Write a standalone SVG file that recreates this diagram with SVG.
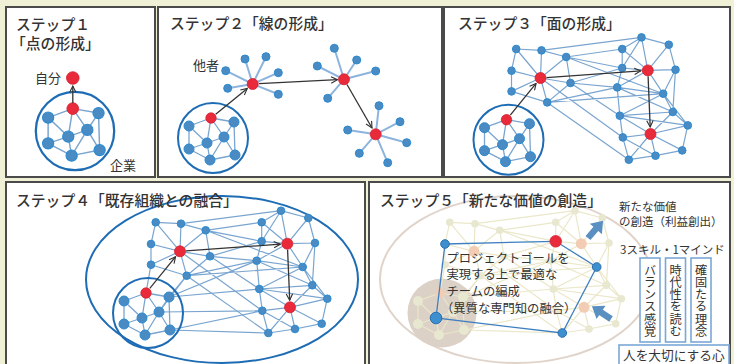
<svg xmlns="http://www.w3.org/2000/svg" xmlns:xlink="http://www.w3.org/1999/xlink" width="734" height="364" viewBox="0 0 734 364">
<style>
.panel{fill:#ffffff;stroke:#4a4a4a;stroke-width:2}
.t{font-family:"Noto Sans CJK JP","Noto Sans",sans-serif;fill:#333333}
.title{font-size:14.8px;font-weight:500}
.lbl{font-size:13px}
.sm{font-size:11.5px}
.mid{font-size:12.3px}
.vt{font-size:12.2px;writing-mode:vertical-rl}
.ring{fill:none;stroke:#1e6cb4;stroke-width:2}
.red{fill:#e92a3a;stroke:#d41f30;stroke-width:0.8}
.peach{fill:#f2cdb3}
.spoke{stroke:#8db4dc;stroke-width:2;fill:none}
.bn{fill:#4b8bc4;stroke:#2a8ad0;stroke-width:1}
.arr{fill:none;stroke:#333333;stroke-width:1.3;marker-end:url(#ah)}
.box{fill:#ffffff;stroke:#7ba7d6;stroke-width:1.6}
.big{fill:#5a8fc2}
</style>
<defs>
<marker id="ah" viewBox="0 0 10 10" refX="9" refY="5" markerWidth="8" markerHeight="8" markerUnits="userSpaceOnUse" orient="auto">
<path d="M1 1L9 5L1 9" fill="none" stroke="#333333" stroke-width="1.4"/>
</marker>
<path id="mesh-e" fill="none" d="M155.7 222.3L181 223.7M155.7 222.3L151 244M155.7 222.3L180 251.3M181 223.7L205.7 230.3M181 223.7L180 251.3M181 223.7L281 210.7M205.7 230.3L261.7 222.3M205.7 230.3L180 251.3M205.7 230.3L210 256.3M205.7 230.3L261.7 241.3M205.7 230.3L302.7 267M261.7 222.3L281 210.7M261.7 222.3L261.7 241.3M261.7 222.3L287.3 243.7M281 210.7L308.3 218M281 210.7L287.3 243.7M281 210.7L261.7 241.3M308.3 218L287.3 243.7M308.3 218L315 243M151 244L180 251.3M151 244L151 264.7M151 264.7L180 251.3M151 264.7L186.7 275.7M180 251.3L210 256.3M180 251.3L186.7 275.7M180 251.3L262.3 310.7M210 256.3L261.7 241.3M210 256.3L256.7 260.7M210 256.3L186.7 275.7M210 256.3L259.3 289M261.7 241.3L287.3 243.7M261.7 241.3L256.7 260.7M287.3 243.7L315 243M287.3 243.7L256.7 260.7M287.3 243.7L302.7 267M315 243L302.7 267M315 243L312.3 285.3M186.7 275.7L256.7 260.7M186.7 275.7L302.7 267M186.7 275.7L268.3 333M256.7 260.7L302.7 267M256.7 260.7L259.3 289M256.7 260.7L312.3 285.3M302.7 267L259.3 289M302.7 267L312.3 285.3M259.3 289L312.3 285.3M259.3 289L290 307.3M259.3 289L262.3 310.7M259.3 289L327.3 298.7M312.3 285.3L327.3 298.7M312.3 285.3L290 307.3M327.3 298.7L290 307.3M327.3 298.7L321.7 323.7M290 307.3L262.3 310.7M290 307.3L321.7 323.7M290 307.3L295 329M290 307.3L268.3 333M262.3 310.7L268.3 333M262.3 310.7L295 329M295 329L268.3 333M295 329L321.7 323.7M302.7 267L327.3 298.7"/>
<path id="link-e" fill="none" d="M146 293L151 264.7M169 297L186.7 275.7M169 297L259.3 289M169 297L256.7 260.7M159 312L186.7 275.7M159 312L262.3 310.7M170 330L262.3 310.7M170 330L268.3 333"/>
<g id="mesh-n">
<circle cx="155.7" cy="222.3" r="3.8"/><circle cx="181" cy="223.7" r="3.8"/><circle cx="205.7" cy="230.3" r="3.8"/><circle cx="261.7" cy="222.3" r="3.8"/><circle cx="281" cy="210.7" r="3.8"/><circle cx="308.3" cy="218" r="3.8"/><circle cx="151" cy="244" r="3.8"/><circle cx="210" cy="256.3" r="3.8"/><circle cx="261.7" cy="241.3" r="3.8"/><circle cx="315" cy="243" r="3.8"/><circle cx="151" cy="264.7" r="3.8"/><circle cx="186.7" cy="275.7" r="3.8"/><circle cx="256.7" cy="260.7" r="3.8"/><circle cx="302.7" cy="267" r="3.8"/><circle cx="259.3" cy="289" r="3.8"/><circle cx="312.3" cy="285.3" r="3.8"/><circle cx="327.3" cy="298.7" r="3.8"/><circle cx="262.3" cy="310.7" r="3.8"/><circle cx="321.7" cy="323.7" r="3.8"/><circle cx="295" cy="329" r="3.8"/><circle cx="268.3" cy="333" r="3.8"/>
</g>
<path id="cl-e" fill="none" d="M-2 -20L-24 -12M-2 -20L21 -16M-2 -20L11 -1M-2 -20L-6 5M-24 -12L-6 5M-24 -12L-24 11M21 -16L11 -1M21 -16L22 17M11 -1L-6 5M11 -1L22 17M11 -1L-3 22M-6 5L-24 11M-6 5L-3 22M-24 11L-3 22M-3 22L22 17"/>
<g id="cl-n">
<circle cx="-24" cy="-12" r="5"/><circle cx="21" cy="-16" r="5"/><circle cx="11" cy="-1" r="5"/><circle cx="-6" cy="5" r="5"/><circle cx="-24" cy="11" r="5"/><circle cx="22" cy="17" r="5"/><circle cx="-3" cy="22" r="5"/>
</g>
<g id="cluster">
<use href="#cl-e" stroke="#7aa5d0" stroke-width="1.3"/>
<use href="#cl-n" fill="#4b8bc4" stroke="#2a8ad0" stroke-width="1"/>
<circle class="red" cx="-2" cy="-20" r="5.2"/>
<circle class="ring" r="35"/>
</g>
</defs>

<rect width="734" height="364" fill="#eff0d6"/>

<g id="panel1">
<rect class="panel" x="6" y="7" width="149" height="170"/>
<text class="t title" x="16" y="30">ステップ１</text>
<text class="t title" x="11" y="49">「点の形成」</text>
<g id="company1" transform="translate(75,131) scale(1.12)"><use href="#cluster"/></g>
<path class="arr" d="M72.8 103L72.8 86"/>
<g id="self1"><circle class="red" cx="72.8" cy="78" r="6.3"/><text class="t lbl" x="35" y="83">自分</text></g>
<text class="t lbl" x="110" y="170">企業</text>
</g>

<g id="panel2">
<rect class="panel" x="158" y="7" width="284" height="170"/>
<text class="t title" x="170" y="29">ステップ２「線の形成」</text>
<g id="company2" transform="translate(213,138)"><use href="#cluster"/></g>
<g id="hub1">
<path class="spoke" d="M252.7 84L225.7 70.7M252.7 84L245 59M252.7 84L266 56.7M252.7 84L278.3 72.7M252.7 84L278.3 94.3M252.7 84L227.7 88.3"/>
<g class="bn"><circle cx="225.7" cy="70.7" r="4"/><circle cx="245" cy="59" r="4"/><circle cx="266" cy="56.7" r="4"/><circle cx="278.3" cy="72.7" r="4"/><circle cx="278.3" cy="94.3" r="4"/><circle cx="227.7" cy="88.3" r="4"/></g>
<circle class="red" cx="252.7" cy="84" r="5.5"/>
<text class="t lbl" x="193" y="70">他者</text>
</g>
<g id="hub2">
<path class="spoke" d="M344 79.3L334.3 48.3M344 79.3L356.7 60M344 79.3L317.3 66M344 79.3L375.7 71M344 79.3L327.7 98.3"/>
<g class="bn"><circle cx="334.3" cy="48.3" r="4"/><circle cx="356.7" cy="60" r="4"/><circle cx="317.3" cy="66" r="4"/><circle cx="375.7" cy="71" r="4"/><circle cx="327.7" cy="98.3" r="4"/></g>
<circle class="red" cx="344" cy="79.3" r="5.5"/>
</g>
<g id="hub3">
<path class="spoke" d="M375.7 134.3L379 105.7M375.7 134.3L400 121.7M375.7 134.3L347.7 130M375.7 134.3L406.7 142.7M375.7 134.3L359.3 153.3M375.7 134.3L387.7 162.7"/>
<g class="bn"><circle cx="379" cy="105.7" r="4"/><circle cx="400" cy="121.7" r="4"/><circle cx="347.7" cy="130" r="4"/><circle cx="406.7" cy="142.7" r="4"/><circle cx="359.3" cy="153.3" r="4"/><circle cx="387.7" cy="162.7" r="4"/></g>
<circle class="red" cx="375.7" cy="134.3" r="5.5"/>
</g>
<g id="connectors2">
<path class="arr" d="M215.7 114.2L247.3 88.4"/>
<path class="arr" d="M259 83.7L337.5 79.7"/>
<path class="arr" d="M347 84.5L372 128"/>
</g>
</g>

<g id="panel3">
<rect class="panel" x="444" y="7" width="286" height="170"/>
<text class="t title" x="458" y="29">ステップ３「面の形成」</text>
<g id="mesh3" transform="translate(360.5,-173.3)">
<use href="#mesh-e" stroke="#7aa5d0" stroke-width="1.2"/>
<use href="#mesh-n" fill="#4b8bc4" stroke="#2a8ad0" stroke-width="1"/>
<circle class="red" cx="180" cy="251.3" r="5.5"/><circle class="red" cx="287.3" cy="243.7" r="5.5"/><circle class="red" cx="290" cy="307.3" r="5.5"/>
<g id="company3" transform="translate(148,313)"><use href="#cluster"/></g>
<g id="connectors3">
<path class="arr" d="M149.8 288.4L175.6 256.7"/>
<path class="arr" d="M186 250.9L280.3 244.2"/>
<path class="arr" d="M287.6 249.7L289.7 300.3"/>
</g>
</g>
</g>

<g id="panel4">
<rect class="panel" x="6" y="182" width="359" height="186"/>
<ellipse cx="222" cy="279.5" rx="136" ry="83.5" fill="none" stroke="#1e6cb4" stroke-width="2"/>
<g id="mesh4">
<use href="#mesh-e" stroke="#7aa5d0" stroke-width="1.2"/>
<use href="#link-e" stroke="#7aa5d0" stroke-width="1.2"/>
<use href="#mesh-n" fill="#4b8bc4" stroke="#2a8ad0" stroke-width="1"/>
<circle class="red" cx="180" cy="251.3" r="5.5"/><circle class="red" cx="287.3" cy="243.7" r="5.5"/><circle class="red" cx="290" cy="307.3" r="5.5"/>
</g>
<g id="company4" transform="translate(148,313)"><use href="#cluster"/></g>
<g id="connectors4">
<path class="arr" d="M149.8 288.4L175.6 256.7"/>
<path class="arr" d="M186 250.9L280.3 244.2"/>
<path class="arr" d="M287.6 249.7L289.7 300.3"/>
</g>
<text class="t title" x="16" y="206">ステップ４「既存組織との融合」</text>
</g>

<g id="panel5">
<rect class="panel" x="369" y="182" width="361" height="186"/>
<g id="faded5" transform="translate(294,0)">
<ellipse cx="222" cy="279.5" rx="136" ry="83.5" fill="none" stroke="#e0d3c9" stroke-width="2"/>
<circle cx="148" cy="313" r="34.5" fill="#dbd1c6"/>
<use href="#mesh-e" stroke="#ebe7c9" stroke-width="1.2"/>
<use href="#link-e" stroke="#ebe7c9" stroke-width="1.2"/>
<use href="#mesh-n" fill="#e8e7cf"/>
<g transform="translate(148,313)">
<use href="#cl-e" stroke="#ebe7c9" stroke-width="1.2"/>
<use href="#cl-n" fill="#e8e7cf"/>
<circle class="peach" cx="-2" cy="-20" r="5"/>
</g>
<circle class="peach" cx="180" cy="251.3" r="5.5"/><circle class="peach" cx="287.3" cy="243.7" r="5.5"/><circle class="peach" cx="290" cy="307.3" r="5.5"/>
</g>
<g id="team5">
<path d="M445 244L555.7 241.3L596.7 267L562.3 333L436 318Z" fill="none" stroke="#3f7fbf" stroke-width="1.3"/>
<g fill="#3d8fcf" stroke="#2b6fae" stroke-width="1"><circle cx="445" cy="244" r="4.3"/><circle cx="596.7" cy="267" r="4.3"/><circle cx="562.3" cy="333" r="4.3"/><circle cx="436" cy="318" r="5.8"/></g>
<circle class="red" cx="555.7" cy="241.3" r="5.8"/>
</g>
<g id="bigarrows">
<polygon class="big" points="0,-3.2 12,-3.2 12,-8 23,0 12,8 12,3.2 0,3.2" transform="translate(588,238) rotate(-49)"/>
<polygon class="big" points="0,-3.2 12,-3.2 12,-8 23,0 12,8 12,3.2 0,3.2" transform="translate(611,319) rotate(-146)"/>
</g>
<text class="t title" x="380" y="206">ステップ５「新たな価値の創造」</text>
<g id="teamtext">
<text class="t mid" x="446.5" y="262.7">プロジェクトゴールを</text>
<text class="t mid" x="446.5" y="279.4">実現する上で最適な</text>
<text class="t mid" x="446.5" y="296">チームの編成</text>
<text class="t mid" x="441" y="312.7">（異質な専門知の融合）</text>
</g>
<g id="value5"><text class="t sm" x="619" y="211">新たな価値</text><text class="t sm" x="619" y="226">の創造（利益創出）</text></g>
<text class="t sm" x="620" y="254">3スキル・1マインド</text>
<g id="skill1"><rect class="box" x="640" y="258" width="20" height="84"/><text class="t vt" x="650" y="264">バランス感覚</text></g>
<g id="skill2"><rect class="box" x="665.5" y="258" width="20" height="84"/><text class="t vt" x="675.5" y="264">時代性を読む</text></g>
<g id="skill3"><rect class="box" x="691" y="258" width="20" height="84"/><text class="t vt" x="701" y="264">確固たる理念</text></g>
<g id="mind"><rect class="box" x="619" y="345" width="110" height="26"/><text class="t" style="font-size:12.7px" x="623" y="360">人を大切にする心</text></g>
</g>
</svg>
